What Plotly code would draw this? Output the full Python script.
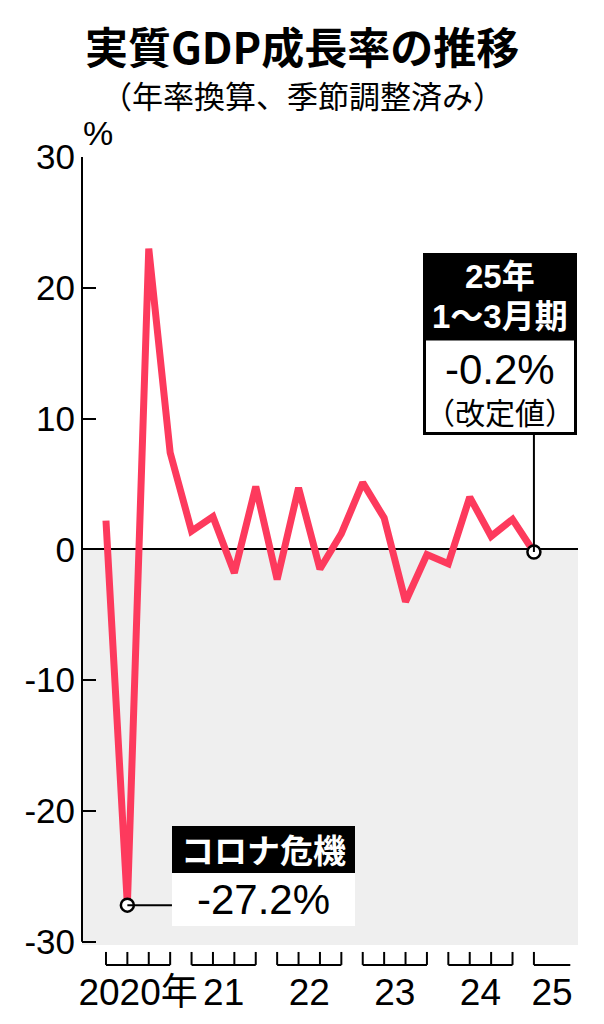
import plotly.graph_objects as go

# 実質GDP成長率（年率換算、季節調整済み）, 2020年1～3月期 - 2025年1～3月期
quarter_labels = [
    "2020Q1", "2020Q2", "2020Q3", "2020Q4",
    "2021Q1", "2021Q2", "2021Q3", "2021Q4",
    "2022Q1", "2022Q2", "2022Q3", "2022Q4",
    "2023Q1", "2023Q2", "2023Q3", "2023Q4",
    "2024Q1", "2024Q2", "2024Q3", "2024Q4",
    "2025Q1",
]
gdp_growth = [
    2.2, -27.2, 23.0, 7.4,
    1.4, 2.5, -1.8, 4.8,
    -2.3, 4.7, -1.5, 1.2,
    5.1, 2.4, -4.0, -0.4,
    -1.1, 4.0, 1.0, 2.3,
    -0.2,
]
year_labels = ["2020年", "21", "22", "23", "24", "25"]
y_tick_values = [-30, -20, -10, 0, 10, 20, 30]
y_tick_text = ["-30", "-20", "-10", "0", "10", "20", "30"]
highlight = ["2020Q2", "2025Q1"]

RED = "#fd3a5d"
GREY = "#efefef"
JP = "Noto Sans CJK JP"
NUM = "Liberation Sans, Noto Sans CJK JP"

# page is 604x1024 but the body margin pushes the figure 8px right/down
OFF = 8
FIG_W, FIG_H = 604 - OFF, 1024 - OFF

# plot area in page pixels
L, R, T, B = 82, 578, 157, 967
W, H = R - L, B - T


def px(p):
    return (p - L) / W


def py(p):
    return (B - p) / H


Y_MIN, Y_MAX = -31.93, 30
X_MIN, X_MAX = -1.12, 22.06
TICK_TOP, TICK_BOT = -30.78, -31.77
SHADE_BOTTOM = -30.24

xs = list(range(len(quarter_labels)))

# year brackets under the plot
bx, by, centers = [], [], []
for yr in sorted(set(q[:4] for q in quarter_labels)):
    idx = [i for i, q in enumerate(quarter_labels) if q.startswith(yr)]
    right = idx[-1] if len(idx) == 4 else idx[0] + 1.7
    for i in idx:
        bx += [i, i, None]
        by += [TICK_TOP, TICK_BOT, None]
    bx += [idx[0], right, None]
    by += [TICK_BOT, TICK_BOT, None]
    centers.append((idx[0] + right) / 2)

fig = go.Figure()
fig.add_trace(go.Scatter(x=bx, y=by, mode="lines",
                         line=dict(color="black", width=2), hoverinfo="skip"))
fig.add_trace(go.Scatter(x=xs, y=gdp_growth, mode="lines",
                         line=dict(color=RED, width=7), hoverinfo="skip"))

hx = [quarter_labels.index(q) for q in highlight]
hy = [gdp_growth[i] for i in hx]

shapes = [
    # grey area below zero
    dict(type="rect", xref="paper", yref="y", x0=0, x1=1, y0=SHADE_BOTTOM, y1=0,
         fillcolor=GREY, line=dict(width=0), layer="below"),
    # y axis line
    dict(type="line", xref="paper", yref="y", x0=0, x1=0, y0=-30, y1=30,
         line=dict(color="black", width=2)),
    # connector for コロナ危機
    dict(type="line", xref="x", yref="y", x0=hx[0], x1=(172 - 106) / 21.4,
         y0=hy[0], y1=hy[0], line=dict(color="black", width=2)),
    # connector for 25年1～3月期
    dict(type="line", xref="x", yref="y", x0=hx[1], x1=hx[1],
         y0=hy[1], y1=(550 - 435) / 13.08, line=dict(color="black", width=2)),
    # boxes
    dict(type="rect", xref="paper", yref="paper", x0=px(423), x1=px(577),
         y0=py(339), y1=py(253), fillcolor="black", line=dict(width=0)),
    dict(type="rect", xref="paper", yref="paper", x0=px(424.5), x1=px(575.5),
         y0=py(433.5), y1=py(339), fillcolor="white", line=dict(color="black", width=3)),
    dict(type="rect", xref="paper", yref="paper", x0=px(172), x1=px(355),
         y0=py(873), y1=py(826), fillcolor="black", line=dict(width=0)),
    dict(type="rect", xref="paper", yref="paper", x0=px(172), x1=px(355),
         y0=py(926), y1=py(873), fillcolor="white", line=dict(width=0)),
]

fig.add_trace(go.Scatter(x=hx, y=hy, mode="markers",
                         marker=dict(size=13, color="white",
                                     line=dict(color="black", width=2.5)),
                         hoverinfo="skip"))


def note(text, xp, yp, size, color="black", weight="normal", family=JP):
    return dict(text=text, xref="paper", yref="paper", x=px(xp), y=py(yp),
                xanchor="center", yanchor="middle", showarrow=False,
                font=dict(family=family, size=size, color=color, weight=weight))


annotations = [
    note("実質GDP成長率の推移", 302, 45, 43, weight="bold"),
    note("（年率換算、季節調整済み）", 302, 94, 31),
    note("%", 98, 133, 34, family=NUM),
    note("25年", 500, 276, 33, color="white", weight="bold", family=NUM),
    note("1～3月期", 500, 316, 33, color="white", weight="bold", family=NUM),
    note("-0.2%", 500, 369, 42, family=NUM),
    note("（改定値）", 500, 411, 30),
    note("コロナ危機", 263, 849, 33, color="white", weight="bold"),
    note("-27.2%", 263, 899, 42, family=NUM),
]

fig.update_layout(
    width=FIG_W, height=FIG_H,
    margin=dict(l=L - OFF, r=FIG_W - (R - OFF), t=T - OFF, b=FIG_H - (B - OFF), pad=0),
    paper_bgcolor="white", plot_bgcolor="white",
    showlegend=False,
    font=dict(family=NUM, color="black"),
    shapes=shapes,
    annotations=annotations,
    xaxis=dict(range=[X_MIN, X_MAX], showgrid=False, zeroline=False, showline=False,
               tickvals=centers, ticktext=year_labels, ticks="",
               tickfont=dict(size=37, family=NUM, color="black")),
    yaxis=dict(range=[Y_MIN, Y_MAX], showgrid=False, showline=False,
               zeroline=True, zerolinecolor="black", zerolinewidth=2,
               tickvals=y_tick_values, ticktext=y_tick_text,
               ticks="inside", ticklen=14, tickwidth=2, tickcolor="black",
               ticklabelstandoff=6,
               tickfont=dict(size=35, family=NUM, color="black")),
)

fig.write_html("out.html")
